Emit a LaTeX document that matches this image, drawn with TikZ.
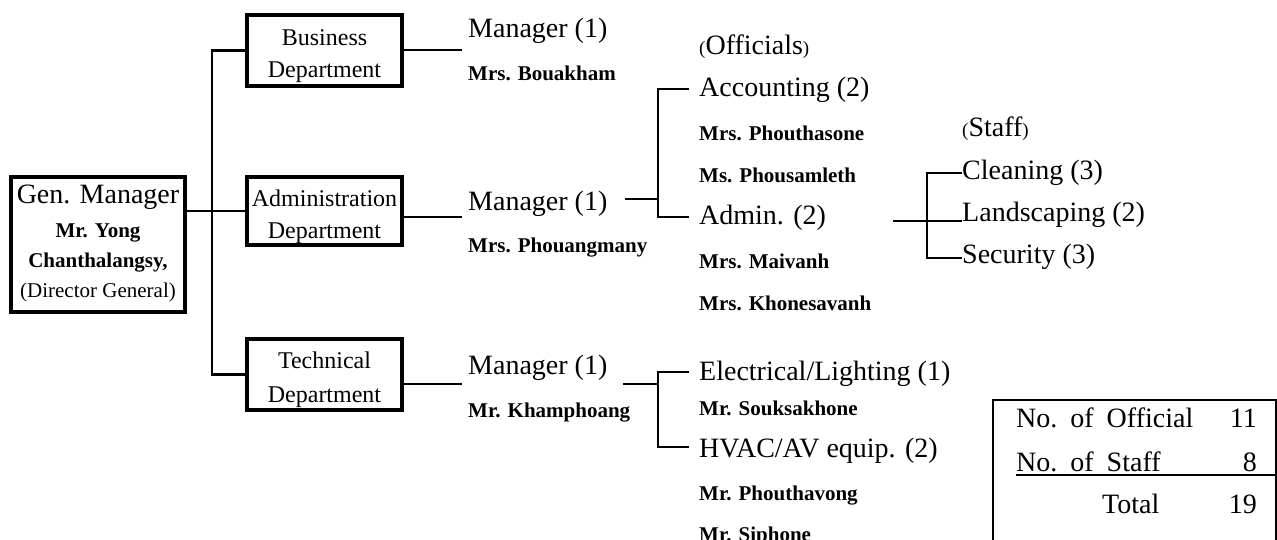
\documentclass[tikz,border=0pt]{standalone}
\usepackage{fontspec}
\setmainfont{Liberation Serif}
\usetikzlibrary{calc}

\newcommand{\sparen}[1]{{\fontsize{19}{20}\selectfont(}#1{\fontsize{19}{20}\selectfont)}}

\begin{document}
\begin{tikzpicture}[x=1pt, y=-1pt,
  box/.style={draw, line width=3.8pt, inner sep=0pt},
  conn/.style={line width=2.3pt},
  lbl/.style={anchor=base west, inner sep=0pt, font=\fontsize{28}{30}\selectfont},
  nm/.style={anchor=base west, inner sep=0pt, font=\fontsize{21}{24}\selectfont\bfseries},
  dep/.style={anchor=base, inner sep=0pt, font=\fontsize{24}{26}\selectfont},
  val/.style={anchor=base east, inner sep=0pt, font=\fontsize{28}{30}\selectfont}]
  \useasboundingbox (0,0) rectangle (1277,540);

  % boxes
  \node[box, minimum width=174.5pt, minimum height=135.5pt] (gm) at (98,244.5) {};
  \node[box, minimum width=155.5pt, minimum height=71.5pt] (bus) at (324.5,50.5) {};
  \node[box, minimum width=155.5pt, minimum height=68.5pt] (adm) at (324.5,211) {};
  \node[box, minimum width=155.5pt, minimum height=71.5pt] (tec) at (324.5,374.5) {};

  \node[dep, font=\fontsize{28}{30}\selectfont] (gm1) at (98,204) {Gen. Manager};
  \node[dep, font=\fontsize{21}{24}\selectfont\bfseries] (gm2) at (98,237) {Mr. Yong};
  \node[dep, font=\fontsize{21}{24}\selectfont\bfseries] (gm3) at (98,267) {Chanthalangsy,};
  \node[dep, font=\fontsize{21}{24}\selectfont] (gm4) at (98,297) {(Director General)};

  \node[dep] (bus1) at (324.5,46) {Business};
  \node[dep] (bus2) at (324.5,78) {Department};
  \node[dep] (adm1) at (324.5,207) {Administration};
  \node[dep] (adm2) at (324.5,239) {Department};
  \node[dep] (tec1) at (324.5,368) {Technical};
  \node[dep] (tec2) at (324.5,402) {Department};

  % left trunk
  \coordinate (trunk) at (212,211);
  \draw[conn] (gm.east |- adm.west) -- (adm.west);
  \draw[conn] (bus.west) -| (trunk) |- (tec.west);

  % managers
  \node[lbl] (mgrB) at (468,38) {Manager (1)};
  \node[nm] (nB) at (468,81) {Mrs. Bouakham};
  \node[lbl] (mgrA) at (468,211) {Manager (1)};
  \node[nm] (nA) at (468,252) {Mrs. Phouangmany};
  \node[lbl] (mgrT) at (468,374) {Manager (1)};
  \node[nm] (nT) at (468,417) {Mr. Khamphoang};

  \coordinate (bR) at (462,50);
  \coordinate (aR) at (462,217);
  \coordinate (tR) at (462,384);
  \draw[conn] (bus.east |- bR) -- (bR);
  \draw[conn] (adm.east |- aR) -- (aR);
  \draw[conn] (tec.east |- tR) -- (tR);

  % officials
  \node[lbl] (offc) at (699,55) {\sparen{Officials}};
  \node[lbl] (acc) at (699,97) {Accounting (2)};
  \node[nm] (acc1) at (699,141) {Mrs. Phouthasone};
  \node[nm] (acc2) at (699,183) {Ms. Phousamleth};
  \node[lbl] (adn) at (699,225) {Admin. (2)};
  \node[nm] (adn1) at (699,268) {Mrs. Maivanh};
  \node[nm] (adn2) at (699,310) {Mrs. Khonesavanh};
  \node[lbl] (elec) at (699,380) {Electrical/Lighting (1)};
  \node[nm] (elec1) at (699,415) {Mr. Souksakhone};
  \node[lbl] (hvac) at (699,457) {HVAC/AV equip. (2)};
  \node[nm] (hvac1) at (699,500) {Mr. Phouthavong};
  \node[nm] (hvac2) at (699,541) {Mr. Siphone};

  \coordinate (aj) at (658,199);
  \draw[conn] ([xshift=-33pt]aj) -- (aj);
  \draw[conn] ([shift={(-10,-8)}]acc.base west) -| (aj) |- ([shift={(-10,-8)}]adn.base west);

  \coordinate (tj) at (658,384);
  \draw[conn] ([xshift=-35pt]tj) -- (tj);
  \draw[conn] ([shift={(-10,-8)}]elec.base west) -| (tj) |- ([shift={(-10,-10)}]hvac.base west);

  % staff
  \node[lbl] (stf) at (962,137) {\sparen{Staff}};
  \node[lbl] (cln) at (962,180) {Cleaning (3)};
  \node[lbl] (lnd) at (962,222) {Landscaping (2)};
  \node[lbl] (sec) at (962,263) {Security (3)};

  \coordinate (sj) at (927,221);
  \draw[conn] ([xshift=-34pt]sj) -- (sj -| lnd.base west);
  \draw[conn] ([yshift=7pt]cln.base west) -| (sj) |- ([yshift=5pt]sec.base west);

  % totals
  \node[draw, line width=1.6pt, minimum width=283pt, minimum height=200pt, anchor=north west] (tbl) at (992,399) {};
  \node[lbl] (noff) at (1016,427) {No.\hspace{13pt}of\hspace{13pt}Official};
  \node[val] (noffv) at (1257,427) {11};
  \node[lbl] (nstf) at (1016,471) {No.\hspace{13pt}of\hspace{13pt}Staff};
  \node[val] (nstfv) at (1257,471) {8};
  \node[lbl] (tot) at (1102,513) {Total};
  \node[val] (totv) at (1257,513) {19};
  \draw[line width=1.6pt] ([yshift=-4pt]nstf.base west) -- ([yshift=-4pt]nstf.base west -| tbl.east);
\end{tikzpicture}
\end{document}
